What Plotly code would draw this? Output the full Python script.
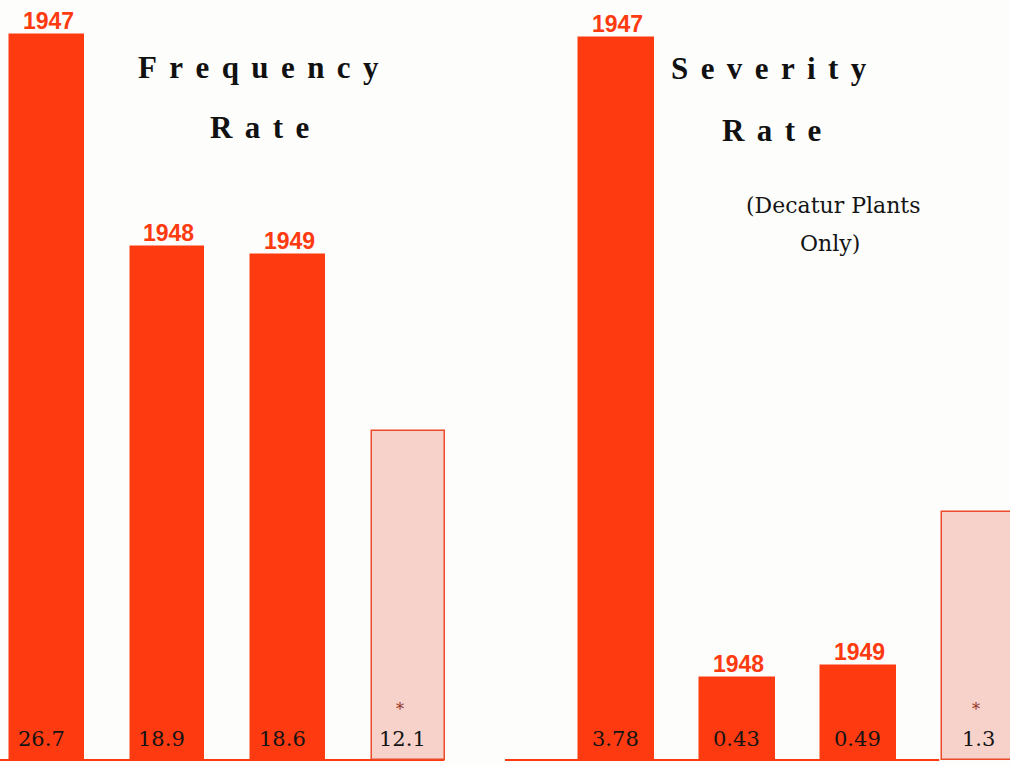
import plotly.graph_objects as go

# Accident rates by year; the last bar in each panel is the comparison figure (*)
categories = ["1947", "1948", "1949", "*"]
frequency_rate = [26.7, 18.9, 18.6, 12.1]
severity_rate = [3.78, 0.43, 0.49, 1.3]
value_labels_freq = ["26.7", "18.9", "18.6", "12.1"]
value_labels_sev = ["3.78", "0.43", "0.49", "1.3"]

RED = "#fd3a10"
PALE = "#f6d2ca"
PALE_EDGE = "#ec4a2a"
BG = "#fdfdfb"

YEAR_FONT = dict(family="Liberation Sans, Arial, sans-serif", size=23, color=RED)
VALUE_FONT = dict(family="DejaVu Serif, Liberation Serif, serif", size=21, color="#141414")
TITLE_FONT = dict(family="Liberation Serif, DejaVu Serif, serif", size=31, color="#111111")
SUB_FONT = dict(family="DejaVu Serif, Liberation Serif, serif", size=22, color="#141414")


def spaced(word):
    return "<b>" + "\u2009\u2009".join(word) + "</b>"


fill_colors = [RED, RED, RED, PALE]
line_colors = [RED, RED, RED, PALE_EDGE]

fig = go.Figure()
fig.add_trace(go.Bar(
    x=categories, y=frequency_rate, width=0.61,
    marker=dict(color=fill_colors, line=dict(color=line_colors, width=1.5)),
    xaxis="x", yaxis="y", hoverinfo="x+y", showlegend=False,
))
fig.add_trace(go.Bar(
    x=categories, y=severity_rate, width=0.62,
    marker=dict(color=fill_colors, line=dict(color=line_colors, width=1.5)),
    xaxis="x2", yaxis="y2", hoverinfo="x+y", showlegend=False,
))

annotations = []
shapes = []
for xref, yref, values, labels, dx in (("x", "y", frequency_rate, value_labels_freq, -6),
                                       ("x2", "y2", severity_rate, value_labels_sev, -1)):
    for i, (cat, v, lab) in enumerate(zip(categories, values, labels)):
        # value printed near the base of each bar (x given as category index)
        annotations.append(dict(x=i, y=0, xref=xref, yref=yref, text=lab,
                                showarrow=False, font=VALUE_FONT,
                                yanchor="middle", yshift=21, xshift=dx))
        if cat == "*":
            annotations.append(dict(x=i, y=0, xref=xref, yref=yref, text="*",
                                    showarrow=False,
                                    font=dict(family="DejaVu Serif, serif", size=16,
                                              color="#8e3026"),
                                    yanchor="middle", yshift=51, xshift=dx - 3))
        else:
            # year above the top of the bar
            annotations.append(dict(x=i, y=v, xref=xref, yref=yref, text="<b>" + cat + "</b>",
                                    showarrow=False, font=YEAR_FONT,
                                    yanchor="bottom", yshift=-1, xshift=1))
    # base line under the bars
    shapes.append(dict(type="line", xref=xref + " domain", yref=yref,
                       x0=0, x1=0.88 if xref == "x" else 0.86, y0=0, y1=0,
                       line=dict(color=RED, width=2), layer="below"))

# panel titles
annotations += [
    dict(x=258 / 1010, y=1 - 67 / 764, xref="paper", yref="paper", text=spaced("Frequency"),
         showarrow=False, font=TITLE_FONT, xanchor="center", yanchor="middle"),
    dict(x=259 / 1010, y=1 - 128 / 764, xref="paper", yref="paper", text=spaced("Rate"),
         showarrow=False, font=TITLE_FONT, xanchor="center", yanchor="middle"),
    dict(x=769 / 1010, y=1 - 68 / 764, xref="paper", yref="paper", text=spaced("Severity"),
         showarrow=False, font=TITLE_FONT, xanchor="center", yanchor="middle"),
    dict(x=771 / 1010, y=1 - 131 / 764, xref="paper", yref="paper", text=spaced("Rate"),
         showarrow=False, font=TITLE_FONT, xanchor="center", yanchor="middle"),
    dict(x=833 / 1010, y=1 - 206 / 764, xref="paper", yref="paper", text="(Decatur Plants",
         showarrow=False, font=SUB_FONT, xanchor="center", yanchor="middle"),
    dict(x=830 / 1010, y=1 - 243 / 764, xref="paper", yref="paper", text="Only)",
         showarrow=False, font=SUB_FONT, xanchor="center", yanchor="middle"),
]

axis_common = dict(showgrid=False, zeroline=False, showticklabels=False, ticks="",
                   showline=False, fixedrange=True)

fig.update_layout(
    width=1010, height=764,
    margin=dict(l=0, r=0, t=0, b=0),
    paper_bgcolor=BG, plot_bgcolor=BG,
    bargap=0,
    xaxis=dict(domain=[0, 0.5], range=[-0.39, 3.80], anchor="y", type="category", **axis_common),
    yaxis=dict(domain=[0, 1], range=[-0.1473, 27.989], anchor="x", **axis_common),
    xaxis2=dict(domain=[0.5, 1], range=[-0.9215, 3.252], anchor="y2", type="category", **axis_common),
    yaxis2=dict(domain=[0, 1], range=[-0.02094, 3.9789], anchor="x2", **axis_common),
    annotations=annotations,
    shapes=shapes,
)

fig.write_html("out.html")
